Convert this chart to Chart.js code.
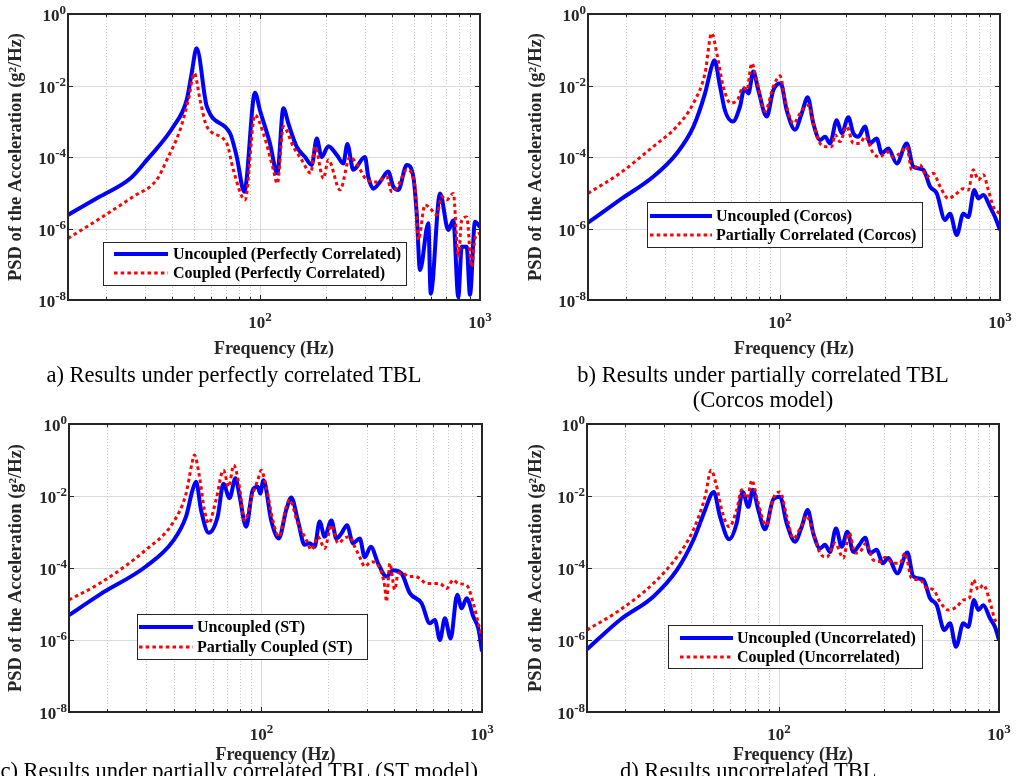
<!DOCTYPE html>
<html>
<head>
<meta charset="utf-8">
<title>PSD of the acceleration</title>
<script src="https://cdn.jsdelivr.net/npm/chart.js@4.4.0/dist/chart.umd.min.js"></script>
<style>
  html, body { margin: 0; padding: 0; background: #fff; }
  body { width: 1023px; height: 776px; position: relative; overflow: hidden;
         font-family: "Liberation Serif", "Times New Roman", serif; }
  canvas { position: absolute; }
  .caption { position: absolute; font-size: 22.5px; line-height: 25px; color: #000; white-space: nowrap; }
</style>
</head>
<body>
<canvas id="chartA" width="503" height="366" style="left:0;top:0"></canvas>
<canvas id="chartB" width="503" height="366" style="left:520px;top:0"></canvas>
<canvas id="chartC" width="503" height="366" style="left:0;top:410px"></canvas>
<canvas id="chartD" width="503" height="366" style="left:520px;top:410px"></canvas>

<div class="caption" style="left:0;top:362px;width:468px;text-align:center">a) Results under perfectly correlated TBL</div>
<div class="caption" style="left:520px;top:362px;width:486px;text-align:center">b) Results under partially correlated TBL<br>(Corcos model)</div>
<div class="caption" style="left:-200px;top:758px;width:678px;text-align:right">c) Results under partially correlated TBL (ST model)</div>
<div class="caption" style="left:620px;top:758px">d) Results uncorrelated TBL</div>

<script>
const FONT = '"Liberation Serif", "Times New Roman", serif';
const AXIS_COLOR = '#262626';
const BLUE = '#0000ff';
const RED = '#ff0000';

// axes
const X_MIN = 13.4, X_MAX = 1000;
const Y_MIN = 1e-8, Y_MAX = 1;
const xMajorExps = [2, 3];
const xMinorTicks = [20, 30, 40, 50, 60, 70, 80, 90, 200, 300, 400, 500, 600, 700, 800, 900];
const yTickExps = [0, -2, -4, -6, -8];

// a) perfectly correlated TBL  [frequency Hz, PSD g^2/Hz]
const uncA = [[13.4,2.4e-6],[18.7,7.8e-6],[25.7,2.5e-5],[30.6,8.3e-5],[40.4,7.1e-4],[46.4,3.9e-3],[48.9,0.022],[51.5,0.11],[57.3,2.6e-3],[73.1,4.6e-4],[78.4,1.0e-4],[84.8,1.07e-5],[94.9,6.3e-3],[100,2.0e-3],[111,2.4e-4],[119.8,3.5e-5],[127.7,2.3e-3],[134.5,8.7e-4],[146.8,1.95e-4],[160.2,1.0e-4],[171.8,6.0e-5],[181.1,3.3e-4],[190.6,1.0e-4],[204.4,2.0e-4],[223.2,1.15e-4],[239.2,6.6e-5],[249.4,2.3e-4],[265.4,4.4e-5],[300,1.0e-4],[310.5,2.8e-5],[327.3,1.3e-5],[351,2.0e-5],[382.5,3.9e-5],[403.4,1.5e-5],[425.3,1.2e-5],[464.5,6.0e-5],[497.7,2.8e-5],[515.6,2.6e-6],[533.6,6.9e-8],[582.2,1.4e-6],[596.9,1.5e-8],[657.9,9.6e-6],[717.7,9.1e-7],[756.5,1.7e-6],[796.6,1.2e-8],[826,3.1e-7],[869.9,3.1e-7],[900.6,1.4e-8],[948.7,1.55e-6],[1000,1.1e-6]];
const cplA = [[13.4,5.3e-7],[18.7,1.9e-6],[26.5,7.8e-6],[33.9,2.3e-5],[37.7,8.3e-5],[43.3,5.7e-4],[47.2,3.9e-3],[50.3,0.022],[53.4,3.9e-3],[57.3,7.1e-4],[70.6,2.4e-4],[75.6,4.4e-5],[85.5,6.3e-6],[94.9,1.5e-3],[103.5,4.6e-4],[115,4.4e-5],[119.8,1.8e-5],[127.7,7.1e-4],[141.6,1.95e-4],[154.7,8.3e-5],[170.1,3.5e-5],[177.8,1.95e-4],[194.1,2.5e-5],[204.4,8.3e-5],[231,1.2e-5],[256.4,1.0e-4],[279.8,5.4e-5],[305.6,2.3e-5],[339.3,2.0e-5],[376.7,2.8e-5],[396.9,1.07e-5],[425.3,1.65e-5],[464.5,4.4e-5],[506.3,1.5e-5],[524.2,4.8e-7],[562.3,4.6e-6],[592.6,3.7e-6],[635.6,2.4e-6],[669.9,7.8e-6],[705.9,6.3e-6],[756.5,9.6e-6],[796.6,1.6e-7],[826,1.7e-6],[869.9,2.1e-6],[916.2,8.5e-8],[948.7,5.3e-7],[1000,7.4e-7]];

// b) partially correlated TBL, Corcos model
const uncB = [[13.4,1.45e-6],[18.7,6.3e-6],[26.5,2.8e-5],[33.9,1.26e-4],[40.4,7.1e-4],[45.6,6.0e-3],[48.9,0.034],[50.3,0.051],[53.4,9.3e-3],[56.2,2.0e-3],[61.0,9.8e-4],[65.8,2.6e-3],[68.8,8.3e-3],[71.8,6.0e-3],[75.6,0.0245],[79.7,7.4e-3],[87.0,1.35e-3],[93.2,7.4e-3],[100.7,0.0115],[107.3,2.0e-3],[117,5.8e-4],[125.5,1.66e-3],[133.6,4.7e-3],[141.7,8.7e-4],[152,3.0e-4],[160.2,3.7e-4],[168.8,2.4e-4],[181,1.07e-3],[190.8,4.6e-4],[204.4,1.3e-3],[215.4,4.6e-4],[227,3.7e-4],[243.4,7.1e-4],[256.5,2.4e-4],[275,3.3e-4],[290,1.26e-4],[310.7,1.74e-4],[339.3,6.6e-5],[376.6,2.4e-4],[403.6,5.4e-5],[448,4.4e-5],[480.6,1.5e-5],[515.7,9.6e-6],[562.3,1.74e-6],[592.6,2.6e-6],[635.7,6.6e-7],[681,2.6e-6],[717.6,2.1e-6],[764,1.2e-5],[797,6.9e-6],[840,8.7e-6],[900.5,4.1e-6],[949,2.1e-6],[1000,9.1e-7]];
const cplB = [[13.4,9.6e-6],[18.7,3.5e-5],[26.5,1.95e-4],[33.9,7.1e-4],[40.4,3.2e-3],[45.6,0.022],[48.9,0.29],[51.6,0.079],[55.2,9.3e-3],[59.7,3.2e-3],[64.6,4.4e-3],[67.7,8.9e-3],[70.6,7.4e-3],[74.4,0.042],[78.3,0.014],[85.5,1.9e-3],[93.2,9.3e-3],[100,0.0186],[105.4,3.9e-3],[114.9,8.7e-4],[125.5,2.0e-3],[134.5,2.8e-3],[141.7,8.7e-4],[152,2.4e-4],[163,1.95e-4],[171.8,1.95e-4],[177.8,4.2e-4],[187.4,2.7e-4],[201,7.1e-4],[215.4,2.4e-4],[231,2.4e-4],[243.4,3.7e-4],[265.6,1.26e-4],[284.8,1.0e-4],[305.5,1.4e-4],[327.3,1.0e-4],[351,1.26e-4],[376.6,1.95e-4],[397,4.4e-5],[433,6.0e-5],[464,2.8e-5],[497.6,3.5e-5],[533.7,1.5e-5],[582,6.9e-6],[635.7,9.6e-6],[681,1.3e-5],[717.6,1.2e-5],[756,4.4e-5],[797,2.3e-5],[840,3.2e-5],[884.6,1.2e-5],[932,4.1e-6],[1000,2.6e-6]];

// c) partially correlated TBL, ST model
const uncC = [[13.4,4.9e-6],[18.4,1.8e-5],[29.9,1.1e-4],[39.5,5.4e-4],[45.5,2.7e-3],[48.7,0.0148],[50.5,0.025],[53.2,4.1e-3],[57.6,9.5e-4],[63.3,2.7e-3],[67.2,0.022],[71.6,8.7e-3],[76.2,0.031],[79.4,0.0107],[85.2,1.4e-3],[91.3,0.0148],[96.2,0.018],[98.7,0.0117],[102.1,0.0275],[110.7,2.1e-3],[119.8,6.6e-4],[129.5,4.1e-3],[136.5,9.1e-3],[146.2,2.1e-3],[156.9,4.4e-4],[165.2,4.9e-4],[174.1,3.9e-4],[183.5,1.95e-3],[193.4,7.4e-4],[207.4,2.1e-3],[218.6,6.6e-4],[230.3,9.1e-4],[244.2,1.55e-3],[260,4.9e-4],[279,6.6e-4],[293.9,2.0e-4],[313,3.9e-4],[337.8,1.35e-4],[368.8,5.8e-5],[395.3,8.7e-5],[431.5,7.1e-5],[470.7,2.0e-5],[532,1.05e-5],[580,2.9e-6],[611.4,3.6e-6],[644.3,1.0e-6],[678.9,4.0e-6],[720.5,1.1e-6],[772,1.8e-5],[808.6,7.6e-6],[852,1.45e-5],[913,4.5e-6],[962,2.1e-6],[1000,4.8e-7]];
const cplC = [[13.4,1.3e-5],[18.4,3.7e-5],[29.9,3.2e-4],[39.5,1.74e-3],[45.5,0.0117],[48.4,0.081],[49.6,0.138],[52.3,0.035],[55.1,4.1e-3],[57.6,1.74e-3],[62.2,7.8e-3],[67.2,0.052],[71.0,0.018],[74.8,0.072],[79.4,0.018],[83.7,2.1e-3],[91.3,0.0117],[96.2,0.0275],[99.7,0.052],[105,0.018],[112.6,2.1e-3],[119.8,7.4e-4],[129.5,5.0e-3],[134.1,7.8e-3],[146.2,1.74e-3],[159.7,6.0e-4],[168.3,3.2e-4],[180.3,7.4e-4],[193.4,3.5e-4],[207.4,1.55e-3],[222.3,4.9e-4],[238.4,6.8e-4],[251.2,7.4e-4],[264.7,3.9e-4],[279,2.0e-4],[293.9,1.1e-4],[315.2,1.5e-4],[343.9,9.8e-5],[362.4,3.0e-5],[368.8,1.15e-5],[381.8,1.35e-4],[402.3,2.5e-5],[416.5,7.1e-5],[438.9,7.1e-5],[462.4,5.8e-5],[496.1,5.8e-5],[522.7,5.1e-5],[560.6,3.7e-5],[600.6,3.7e-5],[644.3,3.7e-5],[691,2.7e-5],[740.5,4.7e-5],[780.3,3.7e-5],[852,3.3e-5],[913,1.05e-5],[962,2.9e-6],[1000,1.1e-6]];

// d) uncorrelated TBL
const uncD = [[13.4,5.5e-7],[18.9,3.6e-6],[26.8,1.6e-5],[34.3,8.7e-5],[40.8,6.0e-4],[46.1,4.1e-3],[49.4,0.0117],[50.5,0.013],[53.9,2.7e-3],[59.4,6.3e-4],[64.2,1.74e-3],[68.4,0.013],[72.5,5.0e-3],[76.0,0.0148],[80.5,4.1e-3],[86.4,1.2e-3],[94.2,8.1e-3],[101,9.5e-3],[108.4,1.74e-3],[118.2,5.4e-4],[126.8,1.4e-3],[135,4.1e-3],[143.2,9.1e-4],[153.6,3.5e-4],[161.8,4.4e-4],[170.5,2.8e-4],[181.5,1.26e-3],[192.8,3.9e-4],[204.4,1.02e-3],[217.7,2.8e-4],[231.7,4.4e-4],[246.8,6.9e-4],[259.2,2.6e-4],[278.1,3.2e-4],[296.1,1.35e-4],[314,1.9e-4],[344.9,7.1e-5],[383,2.7e-4],[407.8,5.8e-5],[452.8,4.7e-5],[485.8,1.45e-5],[521,9.3e-6],[564,1.9e-6],[598.7,2.9e-6],[637.5,6.5e-7],[688,2.9e-6],[725,2.3e-6],[770,1.3e-5],[805,6.8e-6],[848.5,9.3e-6],[910,4.0e-6],[959,2.3e-6],[1000,1.0e-6]];
const cplD = [[13.4,1.9e-6],[18.9,6.8e-6],[26.8,3.7e-5],[34.3,2.0e-4],[40.8,1.15e-3],[46.1,9.5e-3],[49.1,0.052],[51.7,0.022],[54.9,4.1e-3],[59.4,1.4e-3],[64.2,4.1e-3],[67.7,0.0148],[71.8,8.7e-3],[75.2,0.0275],[79.7,7.8e-3],[87.3,1.55e-3],[94.2,8.7e-3],[101,0.013],[108.4,2.7e-3],[116.1,6.6e-4],[126.8,1.55e-3],[133.6,2.8e-3],[143.2,9.1e-4],[153.6,2.6e-4],[164.8,2.0e-4],[179.7,4.9e-4],[196,1.9e-4],[208.7,9.5e-4],[221.5,2.6e-4],[233.4,2.8e-4],[248.6,4.9e-4],[268.3,1.66e-4],[287.8,1.5e-4],[303.2,2.0e-4],[330.7,1.35e-4],[354.8,1.35e-4],[373.8,2.6e-4],[401,5.1e-5],[437.5,4.7e-5],[469.3,2.75e-5],[502.8,2.5e-5],[539.3,1.15e-5],[588.3,6.8e-6],[642.2,8.3e-6],[688,1.3e-5],[732.8,1.45e-5],[764,4.7e-5],[805,2.5e-5],[848.5,3.4e-5],[910,1.15e-5],[959,3.6e-6],[1000,2.9e-6]];

// draws "10" with a raised exponent
function drawPower(ctx, exp, x, y, align) {
    const base = '10', sup = String(exp);
    ctx.font = 'bold 17px ' + FONT;
    const bw = ctx.measureText(base).width;
    ctx.font = 'bold 13px ' + FONT;
    const sw = ctx.measureText(sup).width;
    const x0 = align === 'right' ? x - bw - sw : x - (bw + sw) / 2;
    ctx.textAlign = 'left';
    ctx.textBaseline = 'alphabetic';
    ctx.font = 'bold 17px ' + FONT;
    ctx.fillText(base, x0, y);
    ctx.font = 'bold 13px ' + FONT;
    ctx.fillText(sup, x0 + bw, y - 7);
}

// grid, axis box, ticks, tick labels and the boxed legend
const axesDecor = {
    id: 'axesDecor',
    beforeDatasetsDraw(chart) {
        const { ctx, chartArea: a, scales: { x, y } } = chart;
        ctx.save();
        ctx.lineWidth = 1;
        ctx.strokeStyle = '#c4c4c4';
        ctx.setLineDash([1, 2]);
        ctx.beginPath();
        xMinorTicks.forEach(v => {
            const px = Math.round(x.getPixelForValue(v)) + 0.5;
            ctx.moveTo(px, a.top);
            ctx.lineTo(px, a.bottom);
        });
        ctx.stroke();

        ctx.setLineDash([]);
        ctx.strokeStyle = '#dadada';
        ctx.beginPath();
        xMajorExps.forEach(e => {
            const px = Math.round(x.getPixelForValue(10 ** e)) + 0.5;
            ctx.moveTo(px, a.top);
            ctx.lineTo(px, a.bottom);
        });
        yTickExps.forEach(e => {
            const py = Math.round(y.getPixelForValue(10 ** e)) + 0.5;
            ctx.moveTo(a.left, py);
            ctx.lineTo(a.right, py);
        });
        ctx.stroke();
        ctx.restore();
    },
    afterDatasetsDraw(chart, args, opts) {
        const { ctx, chartArea: a, scales: { x, y } } = chart;
        ctx.save();

        ctx.strokeStyle = AXIS_COLOR;
        ctx.lineWidth = 1;
        ctx.beginPath();
        const xTick = (v, len) => {
            const px = Math.round(x.getPixelForValue(v)) + 0.5;
            ctx.moveTo(px, a.bottom); ctx.lineTo(px, a.bottom - len);
            ctx.moveTo(px, a.top); ctx.lineTo(px, a.top + len);
        };
        xMinorTicks.forEach(v => xTick(v, 3));
        xMajorExps.forEach(e => xTick(10 ** e, 5));
        yTickExps.forEach(e => {
            const py = Math.round(y.getPixelForValue(10 ** e)) + 0.5;
            ctx.moveTo(a.left, py); ctx.lineTo(a.left + 5, py);
            ctx.moveTo(a.right, py); ctx.lineTo(a.right - 5, py);
        });
        ctx.stroke();

        ctx.lineWidth = 2;
        ctx.strokeRect(a.left, a.top, a.right - a.left, a.bottom - a.top);

        ctx.fillStyle = AXIS_COLOR;
        yTickExps.forEach(e => drawPower(ctx, e, a.left - 2, y.getPixelForValue(10 ** e) + 7, 'right'));
        xMajorExps.forEach(e => drawPower(ctx, e, x.getPixelForValue(10 ** e), a.bottom + 28, 'center'));

        const lg = opts.legend;
        if (lg) {
            ctx.fillStyle = '#fff';
            ctx.fillRect(lg.x, lg.y, lg.w, lg.h);
            ctx.strokeStyle = AXIS_COLOR;
            ctx.lineWidth = 1;
            ctx.strokeRect(lg.x + 0.5, lg.y + 0.5, lg.w, lg.h);
            chart.data.datasets.forEach((ds, i) => {
                const ry = lg.y + lg.rows[i];
                ctx.strokeStyle = ds.borderColor;
                ctx.lineWidth = ds.borderWidth;
                ctx.setLineDash(ds.borderDash || []);
                ctx.beginPath();
                ctx.moveTo(lg.x + lg.line[0], ry);
                ctx.lineTo(lg.x + lg.line[1], ry);
                ctx.stroke();
                ctx.setLineDash([]);
                ctx.fillStyle = '#000';
                ctx.font = 'bold 16px ' + FONT;
                ctx.textAlign = 'left';
                ctx.textBaseline = 'middle';
                ctx.fillText(ds.label, lg.x + lg.text, ry + 1);
            });
        }
        ctx.restore();
    }
};

function makePanel(id, unc, cpl, labels, lay) {
    const canvas = document.getElementById(id);
    const H = canvas.height, W = canvas.width;
    return new Chart(canvas.getContext('2d'), {
        type: 'line',
        data: {
            datasets: [
                {
                    label: labels[0],
                    data: unc.map(([f, p]) => ({ x: f, y: p })),
                    borderColor: BLUE,
                    borderWidth: 4,
                    order: 1
                },
                {
                    label: labels[1],
                    data: cpl.map(([f, p]) => ({ x: f, y: p })),
                    borderColor: RED,
                    borderWidth: 3,
                    borderDash: [3.5, 3.2],
                    order: 0
                }
            ]
        },
        options: {
            responsive: false,
            animation: false,
            devicePixelRatio: 1,
            layout: { padding: { left: 0, top: lay.T, right: W - lay.R, bottom: 0 } },
            elements: {
                point: { radius: 0, hoverRadius: 0 },
                line: { cubicInterpolationMode: 'monotone', borderCapStyle: 'butt', borderJoinStyle: 'round' }
            },
            plugins: {
                legend: { display: false },
                tooltip: { enabled: false },
                axesDecor: { legend: lay.legend }
            },
            scales: {
                x: {
                    type: 'logarithmic',
                    min: X_MIN,
                    max: X_MAX,
                    bounds: 'data',
                    ticks: { display: false },
                    grid: { display: false },
                    border: { display: false },
                    title: {
                        display: true, text: 'Frequency (Hz)', color: AXIS_COLOR,
                        font: { family: FONT, size: 18, weight: 'bold' },
                        padding: { top: 0, bottom: lay.xTitlePad }
                    },
                    afterFit: s => { s.height = H - lay.B; }
                },
                y: {
                    type: 'logarithmic',
                    min: Y_MIN,
                    max: Y_MAX,
                    bounds: 'data',
                    ticks: { display: false },
                    grid: { display: false },
                    border: { display: false },
                    title: {
                        display: true, text: 'PSD of the Acceleration (g²/Hz)', color: AXIS_COLOR,
                        font: { family: FONT, size: 18.5, weight: 'bold' },
                        padding: { top: 5, bottom: 0 }
                    },
                    afterFit: s => { s.width = lay.L; }
                }
            }
        },
        plugins: [axesDecor]
    });
}

makePanel('chartA', uncA, cplA,
    ['Uncoupled (Perfectly Correlated)', 'Coupled (Perfectly Correlated)'],
    { L: 68, T: 14, R: 480, B: 300, xTitlePad: 6,
      legend: { x: 103, y: 242, w: 303, h: 43, line: [11, 65], text: 70, rows: [12, 31] } });

makePanel('chartB', uncB, cplB,
    ['Uncoupled (Corcos)', 'Partially Correlated (Corcos)'],
    { L: 68, T: 14, R: 480, B: 300, xTitlePad: 6,
      legend: { x: 127, y: 202, w: 275, h: 45, line: [3, 65], text: 69, rows: [14, 33] } });

makePanel('chartC', uncC, cplC,
    ['Uncoupled (ST)', 'Partially Coupled (ST)'],
    { L: 69, T: 14, R: 482, B: 302, xTitlePad: 10,
      legend: { x: 137, y: 204, w: 230, h: 45, line: [2, 56], text: 60, rows: [13, 33] } });

makePanel('chartD', uncD, cplD,
    ['Uncoupled (Uncorrelated)', 'Coupled (Uncorrelated)'],
    { L: 67, T: 14, R: 479, B: 302, xTitlePad: 10,
      legend: { x: 148, y: 215, w: 254, h: 43, line: [12, 65], text: 69, rows: [13, 32] } });
</script>
</body>
</html>
